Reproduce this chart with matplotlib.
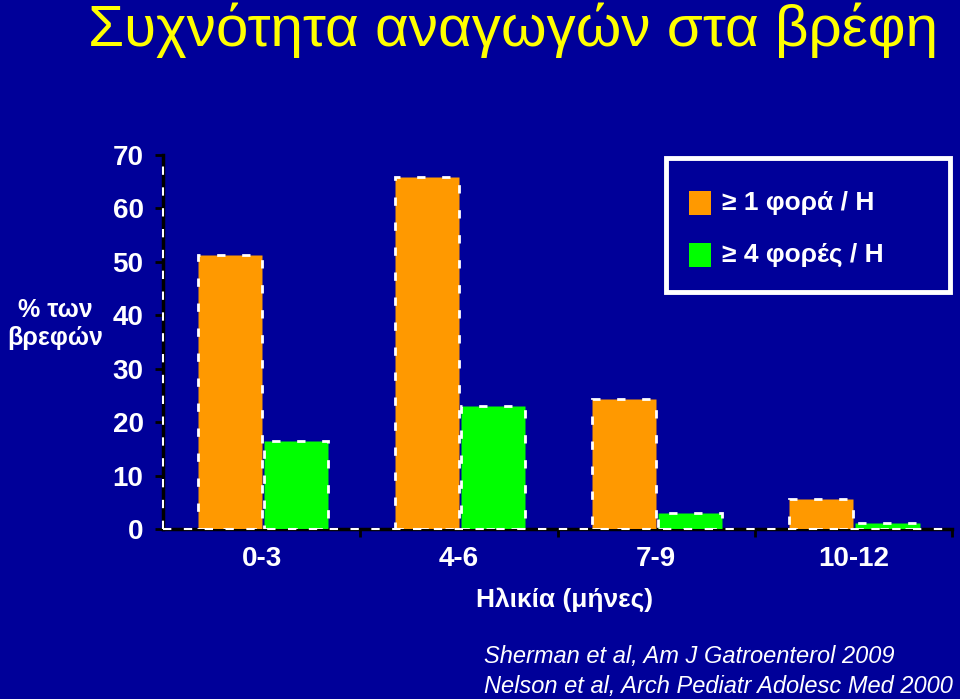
import matplotlib.pyplot as plt
from matplotlib.patches import Rectangle

# data
ages = ['0-3', '4-6', '7-9', '10-12']
once_a_day = [51.2, 65.8, 24.3, 5.6]
four_a_day = [16.4, 23.0, 3.0, 1.1]
series_labels = ['\u2265 1 φορά / Η', '\u2265 4 φορές / Η']
series_colors = ['#FF9900', '#00FF00']
y_ticks = [0, 10, 20, 30, 40, 50, 60, 70]
refs = ['Sherman et al, Am J Gatroenterol 2009',
        'Nelson et al, Arch Pediatr Adolesc Med 2000']

plt.rcParams['font.family'] = ['Liberation Sans', 'DejaVu Sans']

bg = '#000099'
W, H = 960, 699


def fx(x):
    return x / W


def fy(y):
    return 1 - y / H


fig = plt.figure(figsize=(9.6, 6.99), dpi=100, facecolor=bg)
ax = fig.add_axes([fx(163), fy(529), (952 - 163) / W, (529 - 155) / H])
ax.set_facecolor(bg)

# bars
xs = range(len(ages))
bw = 0.325
dash = (0, (3, 6))
ax.bar([x - 0.162 for x in xs], once_a_day, bw, color=series_colors[0],
       edgecolor='white', linewidth=2, linestyle=dash, zorder=3)
ax.bar([x + 0.173 for x in xs], four_a_day, bw, color=series_colors[1],
       edgecolor='white', linewidth=2, linestyle=dash, zorder=3)

ax.set_xlim(-0.5, 3.5)
ax.set_ylim(0, 70)

# axis lines: black with white dashes
for s in ['top', 'right']:
    ax.spines[s].set_visible(False)
for s in ['left', 'bottom']:
    ax.spines[s].set_color('black')
    ax.spines[s].set_linewidth(2.5)
ax.axhline(0, color='white', lw=1.5, ls=(0, (4, 6)), zorder=4, clip_on=False)
ax.axvline(-0.5, color='white', lw=1.5, ls=(0, (4, 6)), zorder=4, clip_on=False)

ax.set_yticks(y_ticks)
ax.set_yticklabels([str(t) for t in y_ticks])
ax.tick_params(axis='y', colors='black', length=6, width=2, pad=8,
               labelcolor='white', labelsize=20)
for lab in ax.get_yticklabels():
    lab.set_fontweight('bold')

ax.set_xticks([0.5, 1.5, 2.5, 3.5])
ax.set_xticklabels([])
ax.set_xticks(list(xs), minor=True)
ax.set_xticklabels(ages, minor=True, color='white', fontsize=20, fontweight='bold')
ax.tick_params(axis='x', which='major', colors='black', length=6, width=2)
ax.tick_params(axis='x', which='minor', length=0, pad=12)

# titles and labels
fig.text(fx(88), fy(30), 'Συχνότητα αναγωγών στα βρέφη', color='#FFFF00',
         fontsize=42, ha='left', va='center')
fig.text(fx(565), fy(600), 'Ηλικία (μήνες)', color='white', fontsize=19,
         fontweight='bold', ha='center', va='center')
fig.text(fx(55), fy(324), '% των\nβρεφών', color='white', fontsize=18,
         fontweight='bold', ha='center', va='center', linespacing=1.2)

# legend box
fig.add_artist(Rectangle((fx(666), fy(292)), (950 - 666) / W, (292 - 158) / H,
                         transform=fig.transFigure, facecolor='none',
                         edgecolor='white', linewidth=3.5))
for i, (lab, col) in enumerate(zip(series_labels, series_colors)):
    yc = 203 + i * 52
    fig.add_artist(Rectangle((fx(689), fy(yc + 12)), 22 / W, 24 / H,
                             transform=fig.transFigure, facecolor=col,
                             edgecolor='none'))
    fig.text(fx(722), fy(yc), lab, color='white', fontsize=19,
             fontweight='bold', ha='left', va='center')

# references
for i, r in enumerate(refs):
    fig.text(fx(484), fy(657 + i * 29), r, color='white', fontsize=17,
             style='italic', ha='left', va='center')

fig.savefig('out.png', dpi=100, facecolor=bg)
